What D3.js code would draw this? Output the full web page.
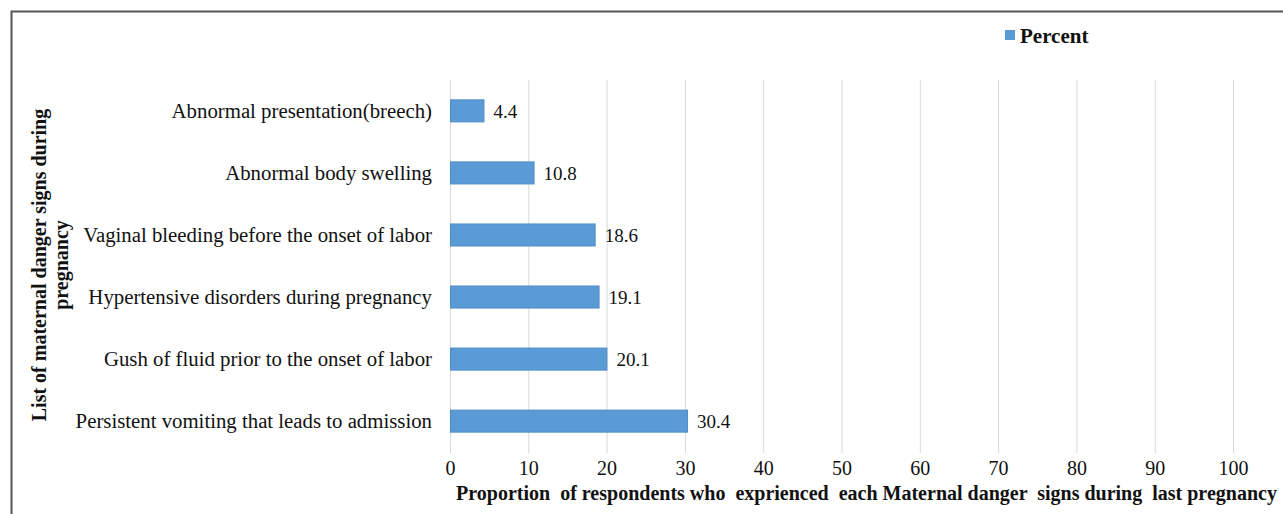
<!DOCTYPE html>
<html>
<head>
<meta charset="utf-8">
<script src="https://cdn.jsdelivr.net/npm/d3@7"></script>
<style>
  body { margin: 0; background: #fff; }
  text { font-family: "Liberation Serif", "Times New Roman", serif; }
</style>
</head>
<body>
<script>
// data
var categories = [
    "Abnormal presentation(breech)",
    "Abnormal body swelling",
    "Vaginal bleeding before the onset of labor",
    "Hypertensive disorders during pregnancy",
    "Gush of fluid prior to the onset of labor",
    "Persistent vomiting that leads to admission"
];
var percents = [4.4, 10.8, 18.6, 19.1, 20.1, 30.4];
var xTicks = [0, 10, 20, 30, 40, 50, 60, 70, 80, 90, 100];
var seriesName = "Percent";

var width = 1283, height = 514;
var svg = d3.select("body").append("svg").attr("width", width).attr("height", height);

// outer frame (top and left edge visible)
svg.append("path")
    .attr("d", "M11.5 " + height + " V11.5 H" + width)
    .attr("fill", "none")
    .attr("stroke", "#555")
    .attr("stroke-width", 2);

var x = d3.scaleLinear().domain([0, 100]).range([450, 1233]);
var y = d3.scaleBand().domain(categories).range([79, 451]).paddingInner(0.645).paddingOuter(0.32);

//gridlines
svg.append("g")
    .selectAll("line")
    .data(xTicks)
    .enter().append("line")
    .attr("x1", (d) => x(d) + 0.5)
    .attr("x2", (d) => x(d) + 0.5)
    .attr("y1", 80)
    .attr("y2", 453)
    .attr("stroke", "#d9d9d9")
    .attr("stroke-width", 1);

// bars
var rows = categories.map((c, i) => ({ cat: c, val: percents[i] }));
svg.append("g")
    .selectAll("rect")
    .data(rows)
    .enter().append("rect")
    .attr("x", x(0) + 0.5)
    .attr("y", (d) => y(d.cat) + 1)
    .attr("width", (d) => x(d.val) - x(0) - 1)
    .attr("height", y.bandwidth())
    .attr("fill", "#5b9bd5")
    .attr("stroke", "#4f8cc6")
    .attr("stroke-width", 1);

// value labels
svg.append("g")
    .selectAll("text")
    .data(rows)
    .enter().append("text")
    .attr("x", (d) => x(d.val) + 9)
    .attr("y", (d) => y(d.cat) + y.bandwidth() / 2 + 1)
    .attr("dy", "0.36em")
    .attr("font-size", 19)
    .attr("fill", "#111")
    .text((d) => d.val.toFixed(1));

// category axis (no line, no ticks)
var yAxis = svg.append("g")
    .attr("transform", "translate(" + x(0) + ",1)")
    .call(d3.axisLeft(y).tickSize(0).tickPadding(18));
yAxis.select(".domain").remove();
yAxis.selectAll("text")
    .attr("font-size", 20.8)
    .attr("fill", "#111")
    .style("font-family", "Liberation Serif, serif");

// value axis
var xAxis = svg.append("g")
    .attr("transform", "translate(0,453)")
    .call(d3.axisBottom(x).tickValues(xTicks).tickSize(0).tickPadding(8));
xAxis.select(".domain").remove();
xAxis.selectAll("text")
    .attr("font-size", 20)
    .attr("fill", "#111")
    .style("font-family", "Liberation Serif, serif");

// axis titles
svg.append("text")
    .attr("x", (457 + 1276) / 2)
    .attr("y", 500)
    .attr("text-anchor", "middle")
    .attr("font-size", 20)
    .attr("font-weight", "bold")
    .attr("fill", "#111")
    .attr("xml:space", "preserve")
    .text("Proportion  of respondents who  exprienced  each Maternal danger  signs during  last pregnancy");

var yTitle = svg.append("text")
    .attr("transform", "translate(46,265) rotate(-90)")
    .attr("text-anchor", "middle")
    .attr("font-size", 20)
    .attr("font-weight", "bold")
    .attr("fill", "#111");
yTitle.append("tspan").attr("x", 0).attr("dy", 0).text("List of maternal danger signs during");
yTitle.append("tspan").attr("x", 0).attr("dy", 22).text("pregnancy");

// legend
var legend = svg.append("g").attr("transform", "translate(1005,30)");
legend.append("rect")
    .attr("width", 10)
    .attr("height", 10)
    .attr("fill", "#5b9bd5");
legend.append("text")
    .attr("x", 15)
    .attr("y", 5)
    .attr("dy", "0.36em")
    .attr("font-size", 21)
    .attr("font-weight", "bold")
    .attr("fill", "#111")
    .text(seriesName);
</script>
</body>
</html>
